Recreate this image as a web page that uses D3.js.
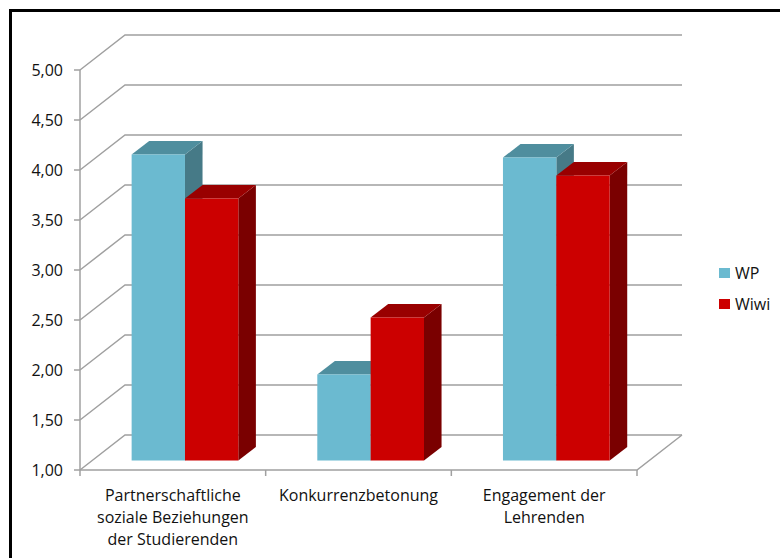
<!DOCTYPE html>
<html>
<head>
<meta charset="utf-8">
<script src="https://cdn.jsdelivr.net/npm/d3@7/dist/d3.min.js"></script>
<style>
  html, body { margin: 0; padding: 0; background: #fff; }
  svg { display: block; }
  text { font-family: "Open Sans", "Noto Sans", sans-serif; fill: #111; }
</style>
</head>
<body>
<svg id="chart" width="780" height="558"></svg>
<script>
// Mittelwerte je Skala und Studiengang
const categories = [
  ["Partnerschaftliche", "soziale Beziehungen", "der Studierenden"],
  ["Konkurrenzbetonung"],
  ["Engagement der", "Lehrenden"]
];
const series = ["WP", "Wiwi"];
const valuesWP = [4.06, 1.86, 4.03];
const valuesWiwi = [3.62, 2.43, 3.85];
const yTicks = [1.0, 1.5, 2.0, 2.5, 3.0, 3.5, 4.0, 4.5, 5.0];

const seriesColors = {
  WP:   { front: "#6BBAD0", top: "#4F8E9E", side: "#467A87" },
  Wiwi: { front: "#CC0000", top: "#990000", side: "#7A0000" }
};

const svg = d3.select("#chart");

// Outer frame
svg.append("rect")
  .attr("x", 10.5).attr("y", 10.5)
  .attr("width", 800).attr("height", 600)
  .attr("fill", "none").attr("stroke", "#000").attr("stroke-width", 3);

// Plot geometry: front plane and depth offset of the 3D box
const x0 = 80, x1 = 637;
const depth = { dx: 45, dy: -35 };
const y = d3.scaleLinear().domain([1, 5]).range([470, 70]);
const x = d3.scaleBand().domain(d3.range(categories.length)).range([x0, x1]).padding(0);
const xs = d3.scaleBand().domain(series).range([0, x.bandwidth()])
  .paddingInner(0).paddingOuter(0.74);

// project a point (front-plane x, value, depth fraction t) to the screen
function P(px, v, t) {
  return [px + depth.dx * t, y(v) + depth.dy * t];
}

const gridColor = "#A0A0A0";
const grid = svg.append("g").attr("stroke", gridColor).attr("stroke-width", 1.5).attr("fill", "none");

// back wall gridlines and left wall gridlines
yTicks.forEach(v => {
  const a = P(x0, v, 0), b = P(x0, v, 1), c = P(x1, v, 1);
  grid.append("path").attr("d", d3.line()([a, b, c]));
});
// front-right floor edge
grid.append("path").attr("d", d3.line()([P(x0, 1, 0), P(x1, 1, 0), P(x1, 1, 1)]));
// vertical value axis
grid.append("path").attr("d", d3.line()([P(x0, 5, 0), P(x0, 1, 0)]));

// value axis ticks and labels
const yAxisG = svg.append("g");
yTicks.forEach(v => {
  yAxisG.append("line")
    .attr("x1", x0 - 6).attr("x2", x0)
    .attr("y1", y(v)).attr("y2", y(v))
    .attr("stroke", gridColor).attr("stroke-width", 1.5);
  yAxisG.append("text")
    .attr("x", 63).attr("y", y(v))
    .attr("dy", "0.35em")
    .attr("text-anchor", "end")
    .attr("font-size", 16)
    .text(d3.format(".2f")(v).replace(".", ","));
});

// category boundary ticks
const bounds = x.domain().map(i => x(i)).concat([x1]);
bounds.forEach(bx => {
  svg.append("line")
    .attr("x1", bx).attr("x2", bx)
    .attr("y1", y(1)).attr("y2", y(1) + 6)
    .attr("stroke", gridColor).attr("stroke-width", 1.5);
});

// 3D columns
const tFront = 0.27, tBack = 0.66;
const bars = [];
categories.forEach((c, i) => {
  bars.push({ cat: i, s: "WP", v: valuesWP[i] });
  bars.push({ cat: i, s: "Wiwi", v: valuesWiwi[i] });
});

const barG = svg.append("g");
bars.forEach(d => {
  const left = x(d.cat) + xs(d.s);
  const right = left + xs.bandwidth();
  const col = seriesColors[d.s];
  const fbl = P(left, 1, tFront), fbr = P(right, 1, tFront);
  const ftl = P(left, d.v, tFront), ftr = P(right, d.v, tFront);
  const btl = P(left, d.v, tBack), btr = P(right, d.v, tBack);
  const bbr = P(right, 1, tBack);
  const poly = pts => "M" + pts.map(p => p.join(",")).join("L") + "Z";
  // side face
  barG.append("path").attr("d", poly([fbr, ftr, btr, bbr])).attr("fill", col.side);
  // top face
  barG.append("path").attr("d", poly([ftl, btl, btr, ftr])).attr("fill", col.top);
  // front face
  barG.append("path").attr("d", poly([fbl, ftl, ftr, fbr])).attr("fill", col.front);
});

// category labels
categories.forEach((lines, i) => {
  const cx = x(i) + x.bandwidth() / 2;
  const t = svg.append("text")
    .attr("text-anchor", "middle")
    .attr("font-size", 16);
  lines.forEach((ln, k) => {
    t.append("tspan")
      .attr("x", cx)
      .attr("y", 501 + k * 22)
      .text(ln);
  });
});

// legend
const legend = svg.append("g");
series.forEach((s, k) => {
  const ly = 273 + k * 31;
  legend.append("rect")
    .attr("x", 719).attr("y", ly - 5)
    .attr("width", 11).attr("height", 10)
    .attr("fill", seriesColors[s].front);
  legend.append("text")
    .attr("x", 735).attr("y", ly)
    .attr("dy", "0.35em")
    .attr("font-size", 16)
    .text(s);
});
</script>
</body>
</html>
